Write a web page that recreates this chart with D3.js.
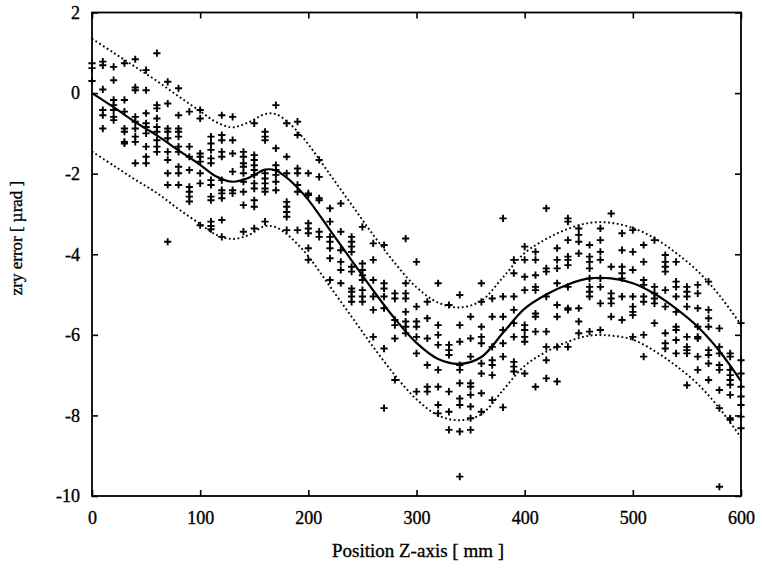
<!DOCTYPE html>
<html>
<head>
<meta charset="utf-8">
<script src="https://cdn.jsdelivr.net/npm/d3@7"></script>
<style>
  html, body { margin: 0; padding: 0; background: #fff; }
  svg { display: block; }
  svg text { font-family: "Liberation Serif", "DejaVu Serif", serif !important; fill: #000; stroke: #000; stroke-width: 0.35px; }
</style>
</head>
<body>
<svg id="chart" width="762" height="569"></svg>
<script>
// ---- data ----
const xTicks = [0, 100, 200, 300, 400, 500, 600];
const yTicks = [-10, -8, -6, -4, -2, 0, 2];

// measurement positions (mm) and the measured errors at each position (µrad)
const columnX = [0,10,20,30,40,50,60,70,80,90,100,110,120,130,140,150,160,170,180,190,200,
  210,220,230,240,250,260,270,280,290,300,310,320,330,340,350,360,370,380,390,400,
  410,420,430,440,450,460,470,480,490,500,510,520,530,540,550,560,570,580,590,600];
const columnY = [
  [0.74, 0.62, 0.30],
  [0.78, 0.69, 0.09, -0.42, -0.55, -0.88],
  [0.65, 0.32, -0.17, -0.30, -0.42, -0.59, -0.67],
  [0.74, -0.17, -0.46, -0.88, -0.96, -1.21, -1.25],
  [0.84, 0.14, 0.07, -0.59, -0.71, -0.88, -1.08, -1.21, -1.74],
  [0.57, 0.07, -0.50, -0.75, -0.84, -1.00, -1.33, -1.58, -1.74],
  [0.99, -0.30, -0.38, -0.63, -0.84, -0.96, -1.17, -1.33, -1.46],
  [0.28, -0.26, -0.88, -0.96, -1.12, -1.46, -1.66, -1.99, -2.28, -3.69],
  [0.12, -0.55, -0.88, -0.96, -1.08, -1.33, -1.46, -1.83, -1.99, -2.28],
  [-0.46, -1.33, -1.58, -1.91, -2.33, -2.45, -2.57, -2.69],
  [-0.42, -0.63, -1.50, -1.58, -1.70, -1.99, -2.24, -3.28],
  [-1.08, -1.25, -1.41, -1.62, -1.74, -2.16, -2.28, -2.57, -2.66, -3.19, -3.30, -3.38],
  [-0.55, -1.04, -1.17, -1.46, -1.58, -2.16, -2.41, -2.49, -2.61, -3.15, -3.57],
  [-0.59, -1.17, -1.50, -1.95, -2.41, -2.49],
  [-1.46, -1.58, -1.74, -1.83, -1.99, -2.20, -2.45, -2.78, -3.44],
  [-0.75, -1.54, -1.66, -1.79, -1.91, -2.03, -2.24, -2.37, -2.66, -2.82, -3.36],
  [-0.96, -1.08, -1.17, -1.99, -2.12, -2.24, -2.37, -2.45, -3.19],
  [-0.30, -1.37, -1.79, -1.91, -2.03, -2.20, -2.41],
  [-0.75, -1.58, -1.99, -2.70, -2.82, -2.95, -3.07, -3.40],
  [-0.71, -1.04, -1.87, -1.99, -2.28, -2.45, -3.40],
  [-1.99, -2.49, -2.53, -3.23, -3.36, -3.48, -3.85, -4.14],
  [-1.66, -2.08, -2.61, -2.66, -3.44, -3.57],
  [-2.86, -3.19, -3.57, -3.69, -3.85, -4.10, -4.64],
  [-2.74, -3.44, -3.90, -4.19, -4.39, -4.72],
  [-3.57, -3.69, -3.81, -3.94, -4.31, -4.43, -4.85, -4.93, -5.05, -5.18],
  [-3.32, -4.23, -4.39, -4.52, -4.64, -4.89, -5.05, -5.18],
  [-3.73, -4.14, -4.64, -5.05, -5.38, -6.05],
  [-3.77, -4.72, -4.85, -5.05, -5.34, -6.34, -7.82],
  [-4.97, -5.10, -5.63, -5.76, -6.09, -7.12],
  [-3.61, -4.72, -4.97, -5.10, -5.43, -5.67, -5.80, -5.96],
  [-4.19, -5.30, -5.67, -5.80, -6.05, -6.46, -7.41],
  [-5.18, -5.59, -6.09, -6.75, -7.29, -7.41],
  [-4.72, -5.76, -6.00, -6.25, -6.87, -7.29, -7.74, -7.95],
  [-5.26, -6.25, -6.38, -6.50, -7.41, -7.91, -8.36],
  [-5.01, -5.76, -6.17, -6.75, -6.87, -7.20, -7.58, -7.74, -8.40, -9.52],
  [-5.55, -6.09, -6.54, -7.20, -7.29, -7.49, -7.78, -8.07, -8.36],
  [-4.72, -5.18, -5.80, -6.05, -6.21, -6.71, -6.96, -7.45, -7.91],
  [-5.10, -5.55, -6.30, -6.63, -6.75, -7.00, -7.62],
  [-3.11, -5.05, -5.55, -5.88, -6.21, -6.54, -7.80],
  [-4.14, -4.47, -5.05, -5.38, -5.71, -6.05, -6.67, -6.79, -6.91],
  [-3.81, -4.14, -4.56, -4.89, -5.76, -5.88, -6.05, -6.17, -6.96],
  [-3.94, -4.14, -4.52, -4.81, -4.89, -5.47, -5.55, -5.92, -7.29],
  [-2.86, -4.35, -4.43, -5.05, -5.92, -6.30, -6.63, -7.08],
  [-3.85, -4.14, -4.35, -4.72, -5.26, -5.55, -6.30, -7.16],
  [-3.11, -3.19, -3.65, -4.06, -4.14, -4.27, -4.81, -5.34, -5.38, -6.30],
  [-3.36, -3.52, -3.69, -3.98, -5.34, -5.67, -5.96],
  [-3.77, -4.06, -4.19, -4.35, -4.60, -4.81, -4.93, -5.05, -5.92],
  [-3.36, -3.65, -3.94, -4.14, -4.60, -4.81, -5.22, -5.88],
  [-2.99, -4.31, -4.97, -5.10, -5.22, -5.55],
  [-3.48, -3.90, -4.31, -4.47, -4.60, -5.05, -5.63],
  [-3.40, -3.94, -4.39, -5.05, -5.30, -5.43, -5.51, -6.05],
  [-3.77, -4.19, -4.64, -4.76, -5.05, -5.18, -6.00, -6.54],
  [-3.65, -4.81, -4.97, -5.10, -5.22, -5.71],
  [-4.02, -4.19, -4.31, -4.43, -4.89, -5.30, -5.96, -6.21, -6.34],
  [-4.19, -4.68, -4.81, -5.05, -5.43, -5.80, -5.88, -6.13, -6.46],
  [-4.81, -4.93, -5.05, -5.30, -6.05, -6.30, -6.38, -6.46, -7.25],
  [-4.76, -4.97, -5.34, -5.80, -6.05, -6.09, -6.54, -6.87],
  [-4.68, -5.38, -5.59, -5.80, -6.38, -6.50, -6.71, -7.12],
  [-5.84, -6.30, -6.46, -6.75, -6.87, -7.37, -7.82, -9.77],
  [-6.46, -6.54, -6.87, -7.00, -7.12, -7.24, -7.49, -8.07, -8.11],
  [-5.71, -6.63, -6.96, -7.29, -7.53, -7.74, -8.03, -8.32]
];

// fitted curve and its confidence band
const fitX     = [0, 20, 40, 60, 80, 100, 115, 130, 145, 160, 170, 180, 190, 200, 220, 240, 260, 280, 300, 320, 340, 360, 380, 400, 420, 440, 460, 480, 500, 520, 540, 560, 580, 600];
const fitY     = [0.0, -0.35, -0.72, -1.05, -1.42, -1.78, -2.07, -2.20, -2.10, -1.90, -1.92, -2.10, -2.35, -2.65, -3.40, -4.15, -4.90, -5.60, -6.20, -6.60, -6.72, -6.55, -5.95, -5.35, -5.00, -4.75, -4.60, -4.60, -4.72, -4.98, -5.35, -5.80, -6.40, -7.15];
const fitUpper = [1.35, 1.00, 0.65, 0.30, -0.08, -0.45, -0.72, -0.85, -0.72, -0.52, -0.52, -0.70, -0.95, -1.27, -2.02, -2.77, -3.52, -4.22, -4.82, -5.20, -5.32, -5.15, -4.57, -3.97, -3.62, -3.37, -3.22, -3.22, -3.35, -3.60, -3.97, -4.42, -5.02, -5.75];
const fitLower = [-1.45, -1.80, -2.15, -2.48, -2.88, -3.25, -3.52, -3.62, -3.52, -3.30, -3.33, -3.50, -3.75, -4.05, -4.80, -5.55, -6.30, -7.00, -7.60, -8.00, -8.12, -7.97, -7.37, -6.77, -6.42, -6.17, -6.02, -6.02, -6.12, -6.40, -6.77, -7.22, -7.82, -8.55];

const xLabel = "Position Z-axis  [ mm ]";
const yLabel = "zry error  [ \u00b5rad ]";

// ---- layout ----
const svg = d3.select("#chart");
const L = 92, R = 741, T = 12.5, B = 496;
const x = d3.scaleLinear().domain([0, 600]).range([L, R]);
const y = d3.scaleLinear().domain([-10, 2]).range([B, T]);
const fmt = d => String(d); // plain hyphen-minus as in the original

// axes (ticks pointing inward, gnuplot-style)
const gx = svg.append("g").attr("transform", `translate(0,${B})`)
  .call(d3.axisBottom(x).tickValues(xTicks).tickFormat(fmt).tickSizeInner(-6).tickSizeOuter(0).tickPadding(15));
const gy = svg.append("g").attr("transform", `translate(${L},0)`)
  .call(d3.axisLeft(y).tickValues(yTicks).tickFormat(fmt).tickSizeInner(-6).tickSizeOuter(0).tickPadding(12));
const gt = svg.append("g").attr("transform", `translate(0,${T})`)
  .call(d3.axisTop(x).tickValues(xTicks).tickSizeInner(-6).tickSizeOuter(0).tickFormat(""));
const gr = svg.append("g").attr("transform", `translate(${R},0)`)
  .call(d3.axisRight(y).tickValues(yTicks).tickSizeInner(-6).tickSizeOuter(0).tickFormat(""));
[gx, gy, gt, gr].forEach(g => {
  g.attr("font-family", null);
  g.select(".domain").remove();
  g.selectAll(".tick line").attr("stroke", "#000").attr("stroke-width", 1.6);
  g.selectAll(".tick text").attr("font-size", 18);
});

svg.append("rect")
  .attr("x", L).attr("y", T).attr("width", R - L).attr("height", B - T)
  .attr("fill", "none").attr("stroke", "#000").attr("stroke-width", 1.8);

// points
const points = [];
columnX.forEach((cx, i) => columnY[i].forEach(v => points.push([cx, v])));
svg.append("g").selectAll("path").data(points).join("path")
  .attr("transform", d => `translate(${x(d[0])},${y(d[1])})`)
  .attr("d", "M-3.6,0H3.6M0,-3.6V3.6")
  .attr("stroke", "#000").attr("stroke-width", 1.9).attr("fill", "none");

// fit curve and band
const fitData = fitX.map((fx, i) => ({x: fx, y: fitY[i], u: fitUpper[i], l: fitLower[i]}));
const line = key => d3.line().x(d => x(d.x)).y(d => y(d[key])).curve(d3.curveCatmullRom.alpha(0.5));
svg.append("path").datum(fitData).attr("d", line("y"))
  .attr("fill", "none").attr("stroke", "#000").attr("stroke-width", 2.2);
["u", "l"].forEach(k => {
  svg.append("path").datum(fitData).attr("d", line(k))
    .attr("fill", "none").attr("stroke", "#000").attr("stroke-width", 1.9)
    .attr("stroke-dasharray", "1.8,2.6");
});

// axis titles
svg.append("text").attr("x", 418).attr("y", 557).attr("text-anchor", "middle")
  .attr("font-size", 19).text(xLabel);
svg.append("text").attr("transform", "translate(22,238) rotate(-90)").attr("text-anchor", "middle")
  .attr("font-size", 17).text(yLabel);
</script>
</body>
</html>
